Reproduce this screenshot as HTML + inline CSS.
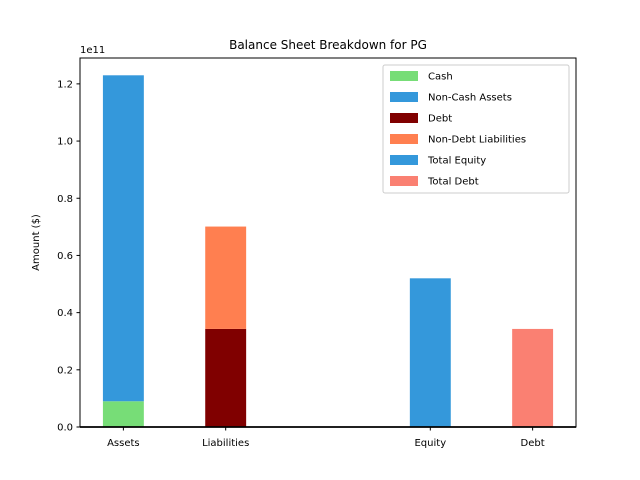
<!DOCTYPE html>
<html><head><meta charset="utf-8"><style>
body{margin:0;background:#fff;}
svg{display:block;font-family:"DejaVu Sans","Liberation Sans",sans-serif;}
</style></head><body>
<svg id="chart" width="640" height="480">
<rect x="0" y="0" width="640" height="480" fill="#fff"/>
<g id="bars"></g>
<g id="axes"></g>
</svg>
<script>
const categories = ["Assets","Liabilities","Equity","Debt"];
const catPositions = [0,1,3,4];
const cashValues = [0.09e11,0,0,0];
const nonCashValues = [1.14e11,0,0,0];
const debtValues = [0,0.343e11,0,0];
const nonDebtValues = [0,0.358e11,0,0];
const equityValues = [0,0,0.52e11,0];
const totalDebtValues = [0,0,0,0.343e11];
const yTicks = [0,0.2e11,0.4e11,0.6e11,0.8e11,1.0e11,1.2e11];
const yTickLabels = ["0.0","0.2","0.4","0.6","0.8","1.0","1.2"];
const legendLabels = ["Cash","Non-Cash Assets","Debt","Non-Debt Liabilities","Total Equity","Total Debt"];
const legendColors = ["#77dd77","#3498db","#800000","#ff7f50","#3498db","#fa8072"];

const NS="http://www.w3.org/2000/svg";
const L=80,R=576,T=58,B=427;
const xmin=-0.424,xmax=4.424,ymin=0,ymax=1.2905e11;
const sx=v=>L+(v-xmin)/(xmax-xmin)*(R-L);
const sy=v=>B-(v-ymin)/(ymax-ymin)*(B-T);
function mk(tag,attrs,parent){const e=document.createElementNS(NS,tag);for(const k in attrs)e.setAttribute(k,attrs[k]);parent.appendChild(e);return e;}
const bars=document.getElementById('bars'), axes=document.getElementById('axes');
const bw=0.4;
const stacks=[[cashValues,"#77dd77","cash"],[nonCashValues,"#3498db","non-cash-assets"],[debtValues,"#800000","debt"],[nonDebtValues,"#ff7f50","non-debt-liabilities"],[equityValues,"#3498db","total-equity"],[totalDebtValues,"#fa8072","total-debt"]];
const base=[0,0,0,0];
stacks.forEach(([vals,col,nm])=>{
  vals.forEach((v,i)=>{
    if(v<=0)return;
    const r=mk('rect',{x:sx(catPositions[i]-bw/2),y:sy(base[i]+v),width:sx(catPositions[i]+bw/2)-sx(catPositions[i]-bw/2),height:sy(base[i])-sy(base[i]+v),fill:col},bars);
    
    
    base[i]+=v;
  });
});
// spines
const sp=mk('rect',{x:L,y:T,width:R-L,height:B-T,fill:'none',stroke:'#000','stroke-width':1},axes);


const bl=mk('line',{x1:L,x2:R,y1:B,y2:B,stroke:'#000','stroke-width':1.8},axes);


// y ticks
yTicks.forEach((v,i)=>{
  const y=sy(v);
  mk('line',{x1:L-3.5,x2:L,y1:y,y2:y,stroke:'#000'},axes);
  const t=mk('text',{x:L-7,y:y+3.6,'text-anchor':'end','font-size':10,fill:'#000'},axes);
  t.textContent=yTickLabels[i];
  
  
});
categories.forEach((c,i)=>{
  const x=sx(catPositions[i]);
  mk('line',{x1:x,x2:x,y1:B,y2:B+3.5,stroke:'#000'},axes);
  const t=mk('text',{x:x,y:B+19,'text-anchor':'middle','font-size':10,fill:'#000'},axes);
  t.textContent=c;
  
  
});
const off=mk('text',{x:L,y:T-5,'font-size':10,fill:'#000'},axes);off.textContent='1e11';


const yt=mk('text',{x:0,y:0,'font-size':10,'text-anchor':'middle',transform:'translate(39,'+((T+B)/2)+') rotate(-90)',fill:'#000'},axes);yt.textContent='Amount ($)';


const ti=mk('text',{x:(L+R)/2,y:T-9,'font-size':12,'text-anchor':'middle',fill:'#000'},axes);ti.textContent='Balance Sheet Breakdown for PG';


// legend
const lg=mk('g',{},axes);


mk('rect',{x:383,y:65,width:186,height:128,rx:2,fill:'#fff','fill-opacity':0.8,stroke:'#ccc'},lg);
legendLabels.forEach((lab,i)=>{
  const y=76+i*21;
  const g=mk('g',{},lg);
  
  
  mk('rect',{x:390,y:y-5,width:28,height:10,fill:legendColors[i]},g);
  const t=mk('text',{x:428,y:y+3.6,'font-size':10,fill:'#000'},g);t.textContent=lab;
});
</script>
</body></html>
